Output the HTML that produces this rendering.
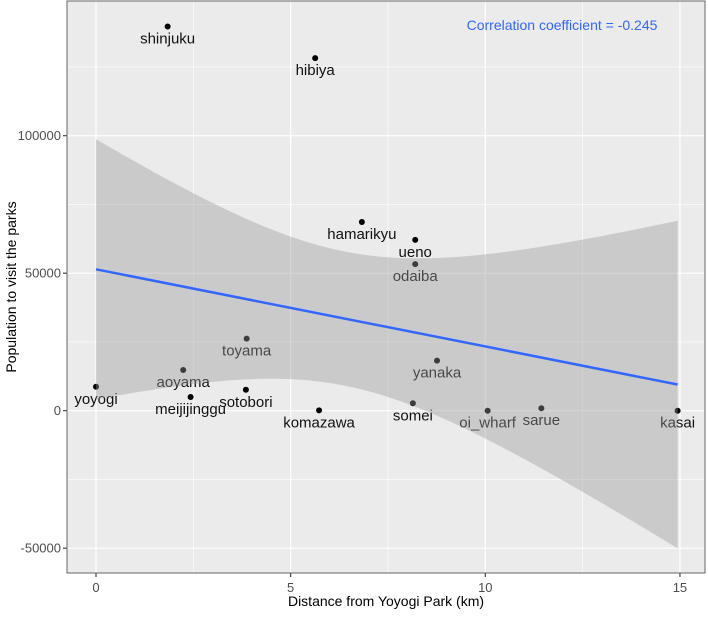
<!DOCTYPE html>
<html><head><meta charset="utf-8"><style>
body{margin:0;background:#fff}
svg text{font-family:"Liberation Sans",Arial,sans-serif}
</style></head><body>
<svg id="chart" width="708" height="612" xmlns="http://www.w3.org/2000/svg">
<rect x="67" y="1" width="638" height="572" fill="#EBEBEB"/>
<g id="grid"></g><g id="pts"></g><g id="band"></g><g id="axes"></g>
<text x="562" y="30" font-size="14" fill="#3366FF" text-anchor="middle">Correlation coefficient = -0.245</text>
<text x="386" y="606" font-size="14" fill="#000" text-anchor="middle">Distance from Yoyogi Park (km)</text>
<text transform="translate(16,287) rotate(-90)" font-size="14" fill="#000" text-anchor="middle">Population to visit the parks</text>
</svg>
<script>
const names=["shinjuku","hibiya","hamarikyu","ueno","odaiba","toyama","aoyama","yanaka","yoyogi","sotobori","meijijinggu","komazawa","somei","oi_wharf","sarue","kasai"];
const distances=[1.84,5.63,6.83,8.20,8.20,3.87,2.24,8.76,0,3.85,2.43,5.73,8.14,10.06,11.44,14.94];
const visitors=[139700,128200,68600,62100,53300,26200,14800,18200,8700,7600,5000,100,2700,0,900,0];
const xTicks=[0,5,10,15];
const yTicks=[-50000,0,50000,100000];
const yTickLabels=["-50000","0","50000","100000"];
const NS="http://www.w3.org/2000/svg";
const X=v=>96+v*38.93, Y=v=>410.7-v*0.00275;
function el(t,a,p){const e=document.createElementNS(NS,t);for(const k in a)e.setAttribute(k,a[k]);p.appendChild(e);return e;}
const grid=document.getElementById('grid'),pts=document.getElementById('pts'),band=document.getElementById('band'),axes=document.getElementById('axes');
[2.5,7.5,12.5].forEach(v=>{const l=el('line',{x1:X(v),x2:X(v),y1:1,y2:573,stroke:'#fff','stroke-width':0.6},grid);});
[-25000,25000,75000,125000].forEach(v=>{const l=el('line',{x1:67,x2:705,y1:Y(v),y2:Y(v),stroke:'#fff','stroke-width':0.6},grid);});
xTicks.forEach(v=>{const l=el('line',{x1:X(v),x2:X(v),y1:1,y2:573,stroke:'#fff','stroke-width':1.2},grid);
const t=el('line',{x1:X(v),x2:X(v),y1:573,y2:577,stroke:'#333','stroke-width':1.1},axes);
const tx=el('text',{x:X(v),y:592,'font-size':13,fill:'#4D4D4D','text-anchor':'middle'},axes);tx.textContent=v;});
yTicks.forEach((v,i)=>{const l=el('line',{x1:67,x2:705,y1:Y(v),y2:Y(v),stroke:'#fff','stroke-width':1.2},grid);
const t=el('line',{x1:63,x2:67,y1:Y(v),y2:Y(v),stroke:'#333','stroke-width':1.1},axes);
const tx=el('text',{x:61,y:Y(v)+4.5,'font-size':13,fill:'#4D4D4D','text-anchor':'end'},axes);tx.textContent=yTickLabels[i];});
const b=el('rect',{x:67,y:1,width:638,height:572,fill:'none',stroke:'#666','stroke-width':1},axes);
names.forEach((n,i)=>{const c=el('circle',{cx:X(distances[i]),cy:Y(visitors[i]),r:3,fill:'#000'},pts);
const t=el('text',{x:X(distances[i]),y:Y(visitors[i])+17,'font-size':15,fill:'#111','text-anchor':'middle'},pts);t.textContent=n;});
const n=distances.length,mx=distances.reduce((a,b)=>a+b)/n,my=visitors.reduce((a,b)=>a+b)/n;
let sxx=0,sxy=0;distances.forEach((x,i)=>{sxx+=(x-mx)**2;sxy+=(x-mx)*(visitors[i]-my);});
const slope=sxy/sxx,ic=my-slope*mx;let sse=0;distances.forEach((x,i)=>{sse+=(visitors[i]-ic-slope*x)**2;});
const s=Math.sqrt(sse/(n-2)),tq=2.145;
const x0=Math.min(...distances),x1=Math.max(...distances);
let up=[],lo=[];for(let k=0;k<=80;k++){const x=x0+(x1-x0)*k/80,f=ic+slope*x,se=s*Math.sqrt(1/n+(x-mx)**2/sxx);up.push(X(x).toFixed(2)+','+Y(f+tq*se).toFixed(2));lo.unshift(X(x).toFixed(2)+','+Y(f-tq*se).toFixed(2));}
const poly=el('polygon',{points:up.concat(lo).join(' '),fill:'#999','fill-opacity':0.4},band);
const ln=el('line',{x1:X(x0),y1:Y(ic+slope*x0),x2:X(x1),y2:Y(ic+slope*x1),stroke:'#3366FF','stroke-width':2.5},band);
</script>
</body></html>
